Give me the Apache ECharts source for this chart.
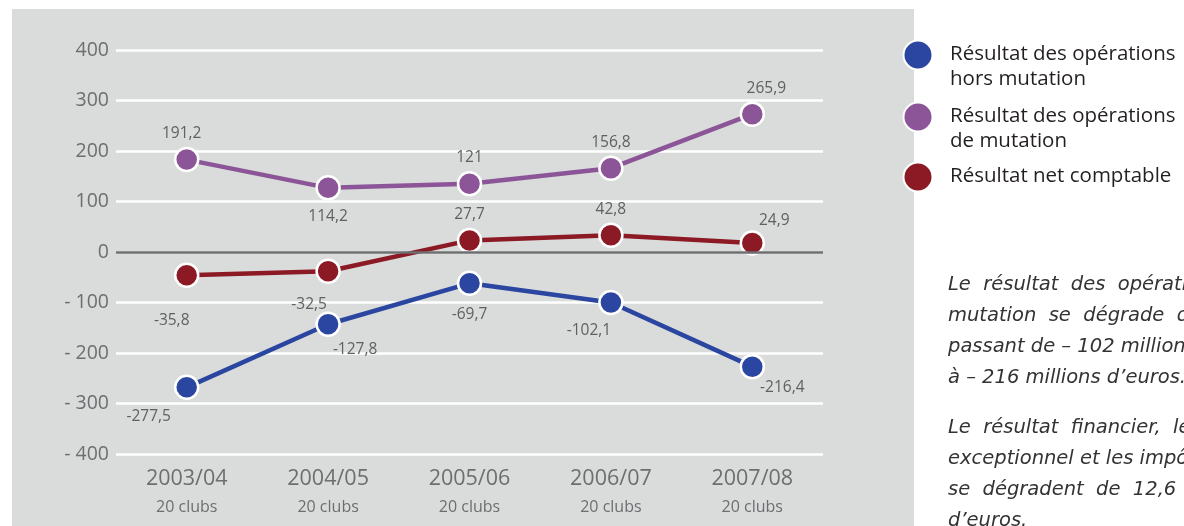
<!DOCTYPE html>
<html>
<head>
<meta charset="utf-8">
<script src="https://cdn.jsdelivr.net/npm/echarts@6/dist/echarts.min.js"></script>
<style>
html,body{margin:0;padding:0;background:#fff;}
#c{width:1184px;height:526px;}
</style>
</head>
<body>
<div id="c"></div>
<script>
const categories = ['2003/04', '2004/05', '2005/06', '2006/07', '2007/08'];
const clubs = ['20 clubs', '20 clubs', '20 clubs', '20 clubs', '20 clubs'];
const seriesNames = ['Résultat des opérations hors mutation', 'Résultat des opérations de mutation', 'Résultat net comptable'];
const horsMutation = [-268, -143, -62, -100, -227];
const horsMutationLabels = ['-277,5', '-127,8', '-69,7', '-102,1', '-216,4'];
const mutation = [183, 127, 135, 166, 273];
const mutationLabels = ['191,2', '114,2', '121', '156,8', '265,9'];
const netComptable = [-46, -38, 23, 33, 18];
const netComptableLabels = ['-35,8', '-32,5', '27,7', '42,8', '24,9'];
const yTicks = [-400, -300, -200, -100, 0, 100, 200, 300, 400];

const colors = ['#2a46a0', '#8c5598', '#8b1a24'];
const labelColor = '#5f6062';
const axisColor = '#6d6e70';

// label placement per point: [position, offsetX, offsetY]
const blueLab = [['bottom', -38, 3], ['bottom', 27, 0], ['bottom', 0, 6], ['bottom', -22, 2], ['bottom', 30, -5]];
const purpleLab = [['top', -5, 0], ['bottom', 0, 3], ['top', 0, 0], ['top', 0, 0], ['top', 14, 0]];
const redLab = [['bottom', -15, 20], ['bottom', -19, 8], ['top', 0, 0], ['top', 0, 0], ['top', 22, 3]];

function mkData(vals, labs, place) {
  return vals.map((v, i) => ({
    value: v,
    label: {
      show: true,
      formatter: labs[i],
      position: place[i][0],
      offset: [place[i][1], place[i][2]],
      distance: 5,
      color: labelColor,
      fontSize: 15.5,
      fontFamily: 'Open Sans'
    }
  }));
}

function mkSeries(name, vals, labs, place, color) {
  return {
    name: name,
    type: 'line',
    data: mkData(vals, labs, place),
    symbol: 'circle',
    symbolSize: 23,
    lineStyle: { color: color, width: 4.5 },
    itemStyle: { color: color, borderColor: '#ffffff', borderWidth: 2.5 },
    emphasis: { disabled: true },
    animation: false,
    z: 3
  };
}

const chart = echarts.init(document.getElementById('c'), null, { renderer: 'canvas' });

const legendItems = [
  { y: 55, lines: ['Résultat des opérations', 'hors mutation'], color: colors[0] },
  { y: 117, lines: ['Résultat des opérations', 'de mutation'], color: colors[1] },
  { y: 177, lines: ['Résultat net comptable'], color: colors[2] }
];

const graphics = [
  { type: 'rect', shape: { x: 12, y: 9, width: 902, height: 530 }, style: { fill: '#dadbdb' }, z: -10, silent: true }
];
legendItems.forEach(it => {
  graphics.push({ type: 'circle', shape: { cx: 918, cy: it.y, r: 14.5 }, style: { fill: it.color, stroke: '#ffffff', lineWidth: 2 }, z: 10, silent: true });
  graphics.push({
    type: 'text', x: 950, y: it.y - 13, z: 10, silent: true,
    style: { text: it.lines.join('\n'), fill: '#231f20', font: '20.5px "Open Sans"', lineHeight: 25, verticalAlign: 'top' }
  });
});

const para = [
  { y: 285, t: 'Le  résultat  des  opérations  hors' },
  { y: 316, t: 'mutation  se  dégrade  de  114  millions,' },
  { y: 347, t: 'passant de – 102 millions d’euros' },
  { y: 378, t: 'à – 216 millions d’euros.' },
  { y: 428, t: 'Le  résultat  financier,  le  résultat' },
  { y: 459, t: 'exceptionnel et les impôts sur les sociétés' },
  { y: 490, t: 'se  dégradent  de  12,6  millions' },
  { y: 521, t: 'd’euros.' }
];
para.forEach(p => {
  graphics.push({
    type: 'text', x: 948, y: p.y, z: 10, silent: true,
    style: { text: p.t, fill: '#333333', font: 'oblique 19.5px "DejaVu Sans"', verticalAlign: 'middle' }
  });
});

chart.setOption({
  backgroundColor: '#ffffff',
  animation: false,
  grid: { left: 116, right: 361, top: 50, bottom: 72, containLabel: false },
  xAxis: {
    type: 'category',
    data: categories,
    boundaryGap: true,
    axisLine: { show: false },
    axisTick: { show: false },
    splitLine: { show: false },
    axisLabel: {
      margin: 11,
      interval: 0,
      formatter: (v, i) => '{y|' + v + '}\n{c|' + clubs[i] + '}',
      rich: {
        y: { fontSize: 21.5, color: axisColor, fontFamily: 'Open Sans', lineHeight: 28 },
        c: { fontSize: 16, color: axisColor, fontFamily: 'Open Sans', lineHeight: 28 }
      }
    }
  },
  yAxis: {
    type: 'value',
    min: yTicks[0],
    max: yTicks[yTicks.length - 1],
    interval: 100,
    axisLine: { show: false },
    axisTick: { show: false },
    axisLabel: {
      margin: 7,
      fontSize: 19.5,
      color: axisColor,
      fontFamily: 'Open Sans',
      formatter: v => v < 0 ? '- ' + Math.abs(v) : String(v)
    },
    splitLine: {
      show: true,
      lineStyle: { color: '#ffffff', width: 2.5 }
    }
  },
  series: [
    mkSeries(seriesNames[0], horsMutation, horsMutationLabels, blueLab, colors[0]),
    mkSeries(seriesNames[1], mutation, mutationLabels, purpleLab, colors[1]),
    mkSeries(seriesNames[2], netComptable, netComptableLabels, redLab, colors[2]),
    {
      type: 'line',
      data: [],
      silent: true,
      markLine: {
        silent: true,
        symbol: 'none',
        label: { show: false },
        lineStyle: { color: axisColor, width: 2.5, type: 'solid' },
        data: [{ yAxis: 0 }]
      },
      z: 2
    }
  ],
  graphic: graphics
});
</script>
</body>
</html>
